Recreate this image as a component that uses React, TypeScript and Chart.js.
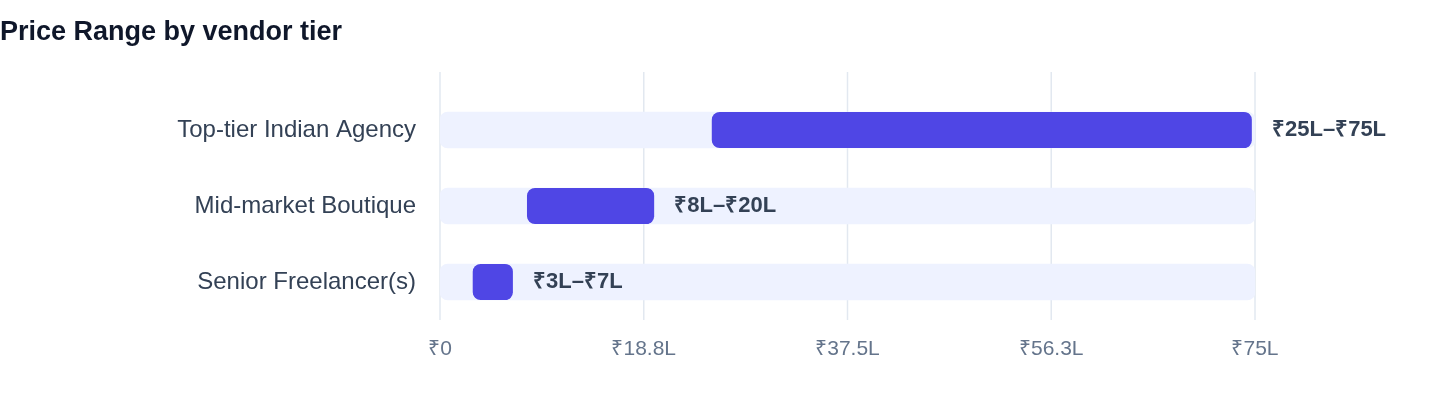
import React, { useEffect, useRef } from "react";
import { Chart, registerables } from "chart.js";

Chart.register(...registerables);

const vendorTiers = ["Top-tier Indian Agency", "Mid-market Boutique", "Senior Freelancer(s)"];
const priceMin = [25, 8, 3];
const priceMax = [75, 20, 7];
const trackMax = 75;
const rangeLabels = ["₹25L–₹75L", "₹8L–₹20L", "₹3L–₹7L"];
const tickValues = [0, 18.75, 37.5, 56.25, 75];
const tickLabels = ["₹0", "₹18.8L", "₹37.5L", "₹56.3L", "₹75L"];

const FONT = '"Helvetica Neue", Helvetica, Arial, "Liberation Sans", sans-serif';
const GRID = "#E2E8F0";

// vertical grid lines, running a bit above the first bar like the original
const gridPlugin = {
  id: "tallGrid",
  beforeDatasetsDraw(chart: any) {
    const { ctx, chartArea } = chart;
    const x = chart.scales.x;
    ctx.save();
    ctx.strokeStyle = GRID;
    ctx.lineWidth = 1.5;
    x.ticks.forEach((t: any) => {
      const px = x.getPixelForValue(t.value);
      ctx.beginPath();
      ctx.moveTo(px, chartArea.top - 20);
      ctx.lineTo(px, chartArea.bottom);
      ctx.stroke();
    });
    ctx.restore();
  },
};

const rangeLabelPlugin = {
  id: "rangeLabels",
  afterDatasetsDraw(chart: any) {
    const { ctx } = chart;
    const meta = chart.getDatasetMeta(0);
    ctx.save();
    ctx.font = `bold 22px ${FONT}`;
    ctx.fillStyle = "#334155";
    ctx.textBaseline = "middle";
    ctx.textAlign = "left";
    meta.data.forEach((bar: any, i: number) => {
      ctx.fillText(rangeLabels[i], bar.x + 17, bar.y);
    });
    ctx.restore();
  },
};

const PriceRangeChart: React.FC = () => {
  const chartRef = useRef<HTMLCanvasElement | null>(null);
  const chartInstanceRef = useRef<Chart | null>(null);

  useEffect(() => {
    document.body.style.margin = "0";
    const ctx = chartRef.current?.getContext("2d");
    if (!ctx) return;
    if (chartInstanceRef.current) {
      chartInstanceRef.current.destroy();
    }

    chartInstanceRef.current = new Chart(ctx, {
      type: "bar",
      data: {
        labels: vendorTiers,
        datasets: [
          {
            label: "Price range",
            data: vendorTiers.map((_, i) => [priceMin[i], priceMax[i]]) as any,
            backgroundColor: "#4F46E5",
            // transparent right border keeps the bar end just short of the value, as in the original
            borderColor: "rgba(0,0,0,0)",
            borderWidth: { top: 0, right: 3.5, bottom: 0, left: 0 },
            borderSkipped: false,
            borderRadius: { topLeft: 8, bottomLeft: 8, topRight: 11.5, bottomRight: 11.5 },
            barThickness: 36,
            grouped: false,
          },
          {
            label: "Track",
            data: vendorTiers.map(() => [0, trackMax]) as any,
            backgroundColor: "#EEF2FF",
            borderSkipped: false,
            borderRadius: 8,
            barThickness: 36,
            grouped: false,
          },
        ],
      },
      options: {
        indexAxis: "y",
        responsive: true,
        maintainAspectRatio: false,
        animation: false,
        layout: {
          padding: { left: 0, right: 185, top: 0, bottom: 28.8 },
        },
        plugins: {
          legend: { display: false },
          tooltip: { enabled: false },
          title: {
            display: true,
            text: "Price Range by vendor tier",
            align: "start",
            color: "#0F172A",
            font: { family: FONT, size: 27, weight: "bold" },
            padding: { top: 16, bottom: 43.6 },
          },
        },
        scales: {
          x: {
            type: "linear",
            min: 0,
            max: trackMax,
            grid: { display: false, drawTicks: false },
            border: { display: false },
            afterBuildTicks: (scale: any) => {
              scale.ticks = tickValues.map((value) => ({ value }));
            },
            ticks: {
              padding: 17,
              color: "#64748B",
              font: { family: FONT, size: 21 },
              callback: (_value: any, index: number) => tickLabels[index],
            },
          },
          y: {
            grid: { display: false, drawTicks: false },
            border: { display: false },
            afterFit: (scale: any) => {
              scale.width = 440;
            },
            ticks: {
              padding: 24,
              color: "#334155",
              font: { family: FONT, size: 24 },
            },
          },
        },
      },
      plugins: [gridPlugin, rangeLabelPlugin],
    });

    return () => {
      if (chartInstanceRef.current) {
        chartInstanceRef.current.destroy();
        chartInstanceRef.current = null;
      }
    };
  }, []);

  return (
    <div style={{ position: "relative", width: 1440, height: 408 }}>
      <canvas ref={chartRef}></canvas>
    </div>
  );
};

export default function App() {
  return <PriceRangeChart />;
}
